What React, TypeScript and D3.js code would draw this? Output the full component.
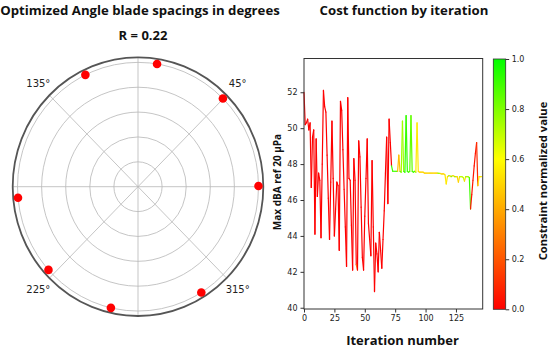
import { useEffect, useRef } from 'react';
import * as d3 from 'd3';

// ---- polar panel data ----
const bladeAngles = [0.3, 45.2, 80.9, 115.9, 185.1, 222.0, 257.0, 301.7];
const bladeRadius = 1.0;
const ringTicks = [0.2, 0.4, 0.6, 0.8, 1.0];
const spokeAngles = [0, 45, 90, 135, 180, 225, 270, 315];
const angleLabelDegs = [45, 135, 225, 315];

// ---- cost function panel data ----
const costValues = [
  52.0, 50.2, 50.3, 50.5, 49.9, 50.3, 46.7, 49.5, 49.9, 44.1,
  49.4, 46.2, 47.5, 47.1, 43.9, 48.0, 52.1, 51.2, 50.9, 48.5,
  46.1, 43.8, 47.0, 50.4, 47.2, 44.0, 45.5, 47.0, 46.8, 43.2,
  51.5, 51.0, 48.8, 46.6, 44.5, 42.3, 51.7, 47.2, 47.1, 44.6,
  42.1, 48.3, 47.1, 42.4, 42.1, 49.3, 48.4, 45.6, 42.8, 42.1,
  45.1, 47.2, 49.4, 44.7, 43.8, 42.9, 48.2, 44.5, 40.9, 43.6,
  43.0, 42.0, 44.2, 43.2, 42.2, 43.8, 45.4, 47.5, 49.5, 45.8,
  50.5, 49.2, 47.9, 47.6, 47.6, 47.6, 47.6, 47.6, 48.5, 47.6,
  47.55, 50.4, 47.6, 47.55, 50.7, 47.6, 47.55, 47.6, 50.7, 47.6,
  47.55, 47.6, 47.55, 50.3, 47.6, 47.55, 47.55, 47.55, 47.55, 47.5,
  47.5, 47.5, 47.5, 47.5, 47.5, 47.5, 47.5, 47.5, 47.5, 47.5,
  47.5, 47.48, 47.48, 47.45, 47.45, 47.45, 47.4, 46.9, 47.3, 47.35,
  47.35, 47.3, 47.35, 47.35, 47.3, 47.3, 47.3, 47.0, 47.3, 47.3,
  47.3, 47.25, 47.05, 47.3, 47.3, 47.3, 47.25, 45.5, 46.3, 47.1,
  47.9, 48.6, 49.2, 46.8, 47.3, 47.3, 47.3,
];
// constraint value for the segment starting at each iteration
const constraintValues = [
  0, 0, 0, 0, 0, 0, 0, 0, 0, 0,
  0, 0, 0, 0, 0, 0, 0, 0, 0, 0,
  0, 0, 0, 0, 0, 0, 0, 0, 0, 0,
  0, 0, 0, 0, 0, 0, 0, 0, 0, 0,
  0, 0, 0, 0.25, 0, 0, 0, 0, 0, 0,
  0, 0, 0, 0, 0, 0, 0, 0, 0, 0,
  0, 0, 0, 0, 0, 0, 0, 0, 0, 0,
  0, 0, 0.9, 0.9, 0.9, 0.9, 0.9, 0.45, 0.45, 0.9,
  0.75, 0.75, 0.9, 0.92, 0.92, 0.9, 0.9, 0.85, 0.85, 0.9,
  0.9, 0.9, 0.55, 0.55, 0.5, 0.5, 0.5, 0.5, 0.5, 0.5,
  0.5, 0.5, 0.5, 0.5, 0.5, 0.5, 0.5, 0.5, 0.5, 0.5,
  0.75, 0.75, 0.5, 0.5, 0.5, 0.5, 0.55, 0.55, 0.5, 0.8,
  0.5, 0.8, 0.5, 0.5, 0.8, 0.5, 0.5, 0.5, 0.7, 0.7,
  0.7, 0.7, 0.5, 0.75, 0.75, 0.75, 0.9, 0.05, 0.05, 0.05,
  0.05, 0.05, 0.1, 0.55, 0.55, 0.55, 0.55,
];
const xTicks = [0, 25, 50, 75, 100, 125];
const yTicks = [40, 42, 44, 46, 48, 50, 52];
const cbarTicks = [0, 0.2, 0.4, 0.6, 0.8, 1.0];
const cmapStops = [0, 0.6, 1];
const cmapColors = ['#ff0000', '#ffff00', '#00ff00'];

const TICK_FONT = 'DejaVu Sans, sans-serif';
const TITLE_FONT = 'Open Sans, sans-serif';

export default function App() {
  const svgRef = useRef<SVGSVGElement>(null);

  useEffect(() => {
    if (!svgRef.current) return;
    const svg = d3.select(svgRef.current);
    svg.selectAll('*').remove();

    const cmap = d3.scaleLinear<string>().domain(cmapStops).range(cmapColors).clamp(true);

    // --- titles ---
    svg.append('text')
      .attr('x', 140).attr('y', 15)
      .attr('text-anchor', 'middle')
      .attr('font-family', TITLE_FONT).attr('font-weight', 700).attr('font-size', 13.2)
      .attr('fill', '#111')
      .text('Optimized Angle blade spacings in degrees');

    svg.append('text')
      .attr('x', 143).attr('y', 39.5)
      .attr('text-anchor', 'middle')
      .attr('font-family', TITLE_FONT).attr('font-weight', 700).attr('font-size', 13)
      .attr('fill', '#111')
      .text('R = 0.22');

    svg.append('text')
      .attr('x', 404).attr('y', 15)
      .attr('text-anchor', 'middle')
      .attr('font-family', TITLE_FONT).attr('font-weight', 700).attr('font-size', 13.2)
      .attr('fill', '#111')
      .text('Cost function by iteration');

    // --- polar panel ---
    const cx = 138, cy = 186.7;
    const yStretch = 1.032;
    const rScale = d3.scaleLinear().domain([0, 1.04]).range([0, 125.3]);

    const polar = svg.append('g')
      .attr('transform', `translate(${cx},${cy}) scale(1,${yStretch})`);

    polar.selectAll('circle.ring')
      .data(ringTicks)
      .join('circle')
      .attr('class', 'ring')
      .attr('r', d => rScale(d))
      .attr('fill', 'none')
      .attr('stroke', '#b8b8b8')
      .attr('stroke-width', 0.8);

    polar.selectAll('line.spoke')
      .data(spokeAngles)
      .join('line')
      .attr('class', 'spoke')
      .attr('x1', 0).attr('y1', 0)
      .attr('x2', d => rScale(1.04) * Math.cos(d * Math.PI / 180))
      .attr('y2', d => -rScale(1.04) * Math.sin(d * Math.PI / 180))
      .attr('stroke', '#b8b8b8')
      .attr('stroke-width', 0.8);

    polar.append('circle')
      .attr('r', rScale(1.04))
      .attr('fill', 'none')
      .attr('stroke', '#555')
      .attr('stroke-width', 1.8);

    // dots drawn outside the stretched group to stay round
    svg.append('g').selectAll('circle')
      .data(bladeAngles)
      .join('circle')
      .attr('cx', d => cx + rScale(bladeRadius) * Math.cos(d * Math.PI / 180))
      .attr('cy', d => cy - yStretch * rScale(bladeRadius) * Math.sin(d * Math.PI / 180))
      .attr('r', 4.3)
      .attr('fill', '#ff0000');

    svg.append('g').selectAll('text')
      .data(angleLabelDegs)
      .join('text')
      .attr('x', d => cx + rScale(1.17) * Math.cos(d * Math.PI / 180))
      .attr('y', d => cy - yStretch * rScale(1.17) * Math.sin(d * Math.PI / 180))
      .attr('text-anchor', 'middle')
      .attr('dominant-baseline', 'central')
      .attr('font-family', TICK_FONT).attr('font-size', 10)
      .attr('fill', '#222')
      .text(d => `${d}°`);

    // --- cost function panel ---
    const plot = { left: 304, right: 482.7, top: 58.5, bottom: 309 };
    const x = d3.scaleLinear().domain([0, 147]).range([plot.left, plot.right]);
    const y = d3.scaleLinear().domain([39.93, 53.88]).range([plot.bottom, plot.top]);

    const segs = d3.range(costValues.length - 1).map(i => ({
      x1: x(i), y1: y(costValues[i]),
      x2: x(i + 1), y2: y(costValues[i + 1]),
      c: constraintValues[i],
    }));

    svg.append('g').selectAll('line')
      .data(segs)
      .join('line')
      .attr('x1', d => d.x1).attr('y1', d => d.y1)
      .attr('x2', d => d.x2).attr('y2', d => d.y2)
      .attr('stroke', d => cmap(d.c))
      .attr('stroke-width', 1.2)
      .attr('stroke-linecap', 'round');

    svg.append('rect')
      .attr('x', plot.left).attr('y', plot.top)
      .attr('width', plot.right - plot.left).attr('height', plot.bottom - plot.top)
      .attr('fill', 'none').attr('stroke', '#333').attr('stroke-width', 1);

    const yAxis = svg.append('g')
      .attr('transform', `translate(${plot.left},0)`)
      .call(d3.axisLeft(y).tickValues(yTicks).tickSize(3.5).tickPadding(3).tickFormat(d3.format('d')));
    const xAxis = svg.append('g')
      .attr('transform', `translate(0,${plot.bottom})`)
      .call(d3.axisBottom(x).tickValues(xTicks).tickSize(3.5).tickPadding(3).tickFormat(d3.format('d')));

    [yAxis, xAxis].forEach(ax => {
      ax.select('.domain').remove();
      ax.selectAll('line').attr('stroke', '#333');
      ax.selectAll('text').attr('font-family', TICK_FONT).attr('font-size', 8).attr('fill', '#222');
    });

    svg.append('text')
      .attr('transform', `translate(280.5,182) rotate(-90)`)
      .attr('text-anchor', 'middle')
      .attr('font-family', TITLE_FONT).attr('font-weight', 700).attr('font-size', 10)
      .attr('fill', '#111')
      .text('Max dBA ref 20 μPa');

    svg.append('text')
      .attr('x', 402.5).attr('y', 345)
      .attr('text-anchor', 'middle')
      .attr('font-family', TITLE_FONT).attr('font-weight', 700).attr('font-size', 13)
      .attr('fill', '#111')
      .text('Iteration number');

    // --- colorbar ---
    const cb = { left: 493.3, right: 505.7, top: 59, bottom: 309.3 };
    const cbScale = d3.scaleLinear().domain([0, 1]).range([cb.bottom, cb.top]);
    const grad = svg.append('defs').append('linearGradient')
      .attr('id', 'cbar-grad')
      .attr('x1', 0).attr('y1', 1).attr('x2', 0).attr('y2', 0);
    grad.selectAll('stop')
      .data(cmapStops)
      .join('stop')
      .attr('offset', d => d)
      .attr('stop-color', (d, i) => cmapColors[i]);

    svg.append('rect')
      .attr('x', cb.left).attr('y', cb.top)
      .attr('width', cb.right - cb.left).attr('height', cb.bottom - cb.top)
      .attr('fill', 'url(#cbar-grad)')
      .attr('stroke', '#333').attr('stroke-width', 0.8);

    const cbAxis = svg.append('g')
      .attr('transform', `translate(${cb.right},0)`)
      .call(d3.axisRight(cbScale).tickValues(cbarTicks).tickSize(3.5).tickPadding(2.5).tickFormat(d3.format('.1f')));
    cbAxis.select('.domain').remove();
    cbAxis.selectAll('line').attr('stroke', '#333');
    cbAxis.selectAll('text').attr('font-family', TICK_FONT).attr('font-size', 8).attr('fill', '#222');

    svg.append('text')
      .attr('transform', `translate(547,181) rotate(-90)`)
      .attr('text-anchor', 'middle')
      .attr('font-family', TITLE_FONT).attr('font-weight', 700).attr('font-size', 11.2)
      .attr('fill', '#111')
      .text('Constraint normalized value');
  }, []);

  return (
    <svg
      ref={svgRef}
      width={550}
      height={348}
      style={{ position: 'absolute', left: 0, top: 0, background: '#fff' }}
    />
  );
}
